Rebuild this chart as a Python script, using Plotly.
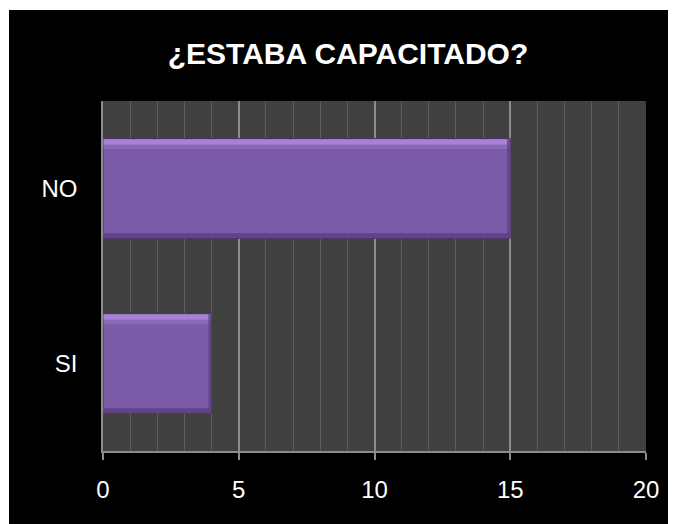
import plotly.graph_objects as go

categories = ["SI", "NO"]
values = [4, 15]
title_text = "¿ESTABA CAPACITADO?"
x_ticks = [0, 5, 10, 15, 20]

BARGAP = 0.43
half = (1 - BARGAP) / 2

# figure sits inside the page's default 8px body margin
W, H = 676, 524
L, R, T, B = 95, 38, 93, 81
PW, PH = W - L - R, H - T - B

fig = go.Figure()
fig.add_trace(go.Bar(
    x=values, y=categories, orientation="h",
    marker=dict(color="#7b5ba7", line=dict(color="#4a3468", width=1)),
    hoverinfo="x+y",
))

shapes = []
# thin white border strips (top and left) around the black frame
shapes.append(dict(type="rect", xref="paper", yref="paper", x0=-L / PW, x1=(W - L) / PW,
                   y0=1 + (T - 2) / PH, y1=1 + T / PH, fillcolor="white",
                   line=dict(width=0), layer="above"))
shapes.append(dict(type="rect", xref="paper", yref="paper", x0=-L / PW, x1=-(L - 1) / PW,
                   y0=-B / PH, y1=1 + T / PH, fillcolor="white",
                   line=dict(width=0), layer="above"))
# bevel highlights derived from data
for i, v in enumerate(values):
    shapes.append(dict(type="rect", xref="x", yref="y", x0=0.02, x1=v - 0.02,
                       y0=i + half - 0.035, y1=i + half - 0.003,
                       fillcolor="#b08ae0", opacity=0.85, line=dict(width=0), layer="above"))
    shapes.append(dict(type="rect", xref="x", yref="y", x0=0.02, x1=v - 0.02,
                       y0=i + half - 0.06, y1=i + half - 0.035,
                       fillcolor="#9a76cc", opacity=0.5, line=dict(width=0), layer="above"))
    shapes.append(dict(type="rect", xref="x", yref="y", x0=0.02, x1=v - 0.02,
                       y0=i - half + 0.003, y1=i - half + 0.03,
                       fillcolor="#5a3f80", opacity=0.85, line=dict(width=0), layer="above"))
    shapes.append(dict(type="rect", xref="x", yref="y", x0=v - 0.12, x1=v - 0.01,
                       y0=i - half + 0.003, y1=i + half - 0.003,
                       fillcolor="#5e4486", opacity=0.8, line=dict(width=0), layer="above"))

fig.update_layout(
    width=W, height=H,
    margin=dict(l=L, r=R, t=T, b=B),
    paper_bgcolor="black",
    plot_bgcolor="#404040",
    bargap=BARGAP,
    showlegend=False,
    title=dict(text="<b>" + title_text + "</b>", x=340 / W, xref="container", xanchor="center",
               y=1 - 45 / H, yref="container", yanchor="middle",
               font=dict(family="Liberation Sans, Arial", size=30, color="white")),
    font=dict(family="Liberation Sans, Arial", size=24, color="white"),
    xaxis=dict(range=[0, 20], tickvals=x_ticks, ticktext=[str(t) for t in x_ticks],
               showgrid=True, gridcolor="#8c8c8c", gridwidth=1.5,
               minor=dict(dtick=1, showgrid=True, gridcolor="#5e5e5e", gridwidth=1),
               showline=True, linecolor="#8c8c8c", linewidth=1.5,
               ticks="outside", ticklen=7, tickcolor="#8c8c8c", tickwidth=1.5,
               ticklabelstandoff=9,
               zeroline=False, fixedrange=True,
               tickfont=dict(size=24, color="white")),
    yaxis=dict(categoryorder="array", categoryarray=categories,
               showgrid=False, showline=True, linecolor="#8c8c8c", linewidth=1.5,
               ticks="", ticklabelstandoff=19, fixedrange=True,
               tickfont=dict(size=24, color="white")),
    shapes=shapes,
)

fig.write_html("out.html")
